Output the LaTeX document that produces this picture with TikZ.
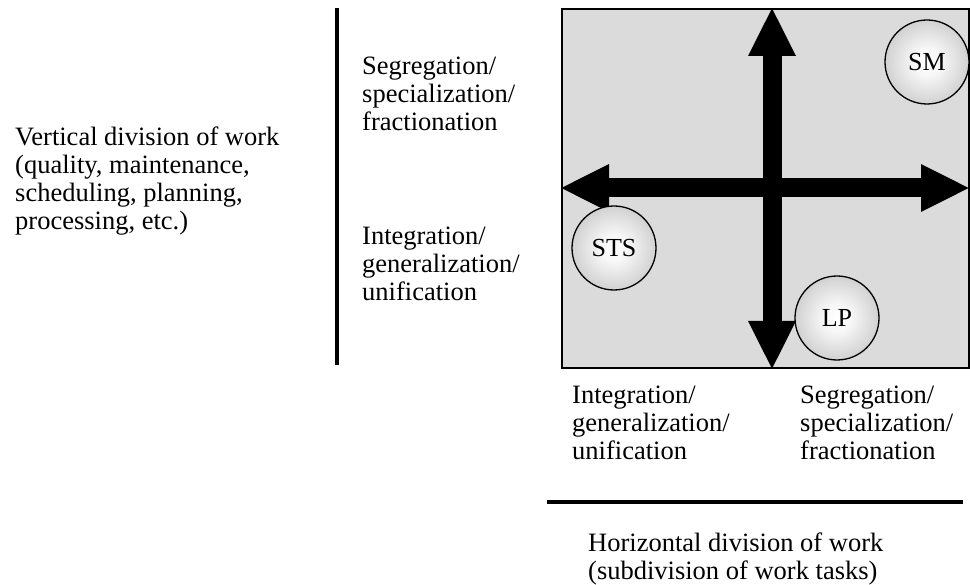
\documentclass[tikz,border=0pt]{standalone}
\usepackage{fontspec}
\setmainfont{Liberation Serif}
\usetikzlibrary{arrows.meta}

\pgfdeclareradialshading{ballgray}{\pgfpoint{0bp}{0bp}}{%
  color(0bp)=(white); color(8bp)=(white!97!black); color(50bp)=(black!40)}

\begin{document}
\begin{tikzpicture}[
    x=1pt, y=-1pt,
    % styles
    label/.style={align=left, anchor=north west, inner sep=0pt,
        font=\fontsize{26.5}{28}\selectfont},
    ball/.style={draw, circle, line width=1.3pt, minimum size=84pt,
        inner sep=0pt, shading=ballgray,
        font=\fontsize{26}{28}\selectfont},
    axis/.style={line width=19pt, {Triangle[length=49pt,width=44pt]}-{Triangle[length=49pt,width=44pt]}},
    bar/.style={line width=4.5pt}
]
\useasboundingbox (0,0) rectangle (970,585);

% --- field ---
\draw[line width=1.8pt, fill=black!14] (562,9) rectangle (969,368);

% --- axes ---
\coordinate (V-top) at (772,7);
\coordinate (V-bot) at (772,370);
\coordinate (H-left) at (560,188);
\coordinate (H-right) at (970,188);
\draw[axis] (V-top) -- (V-bot);
\draw[axis] (H-left) -- (H-right);

% --- positions ---
\node[ball] (SM) at (927,62) {SM};
\node[ball] (STS) at (614,248) {STS};
\node[ball] (LP) at (837,318) {LP};

% --- bars ---
\coordinate (L-top) at (337,8);
\coordinate (L-bot) at (337,365);
\coordinate (B-left) at (547,502);
\coordinate (B-right) at (963,502);
\draw[bar] (L-top) -- (L-bot);
\draw[bar] (B-left) -- (B-right);

% --- labels ---
\node[label] (vert) at (15,127) {Vertical division of work\\(quality, maintenance,\\scheduling, planning,\\processing, etc.)};
\node[label] (segV) at (362,57) {Segregation/\\specialization/\\fractionation};
\node[label] (intV) at (362,227) {Integration/\\generalization/\\unification};
\node[label] (intH) at (572,386) {Integration/\\generalization/\\unification};
\node[label] (segH) at (800,386) {Segregation/\\specialization/\\fractionation};
\node[label] (horiz) at (588,533) {Horizontal division of work\\(subdivision of work tasks)};

\end{tikzpicture}
\end{document}
